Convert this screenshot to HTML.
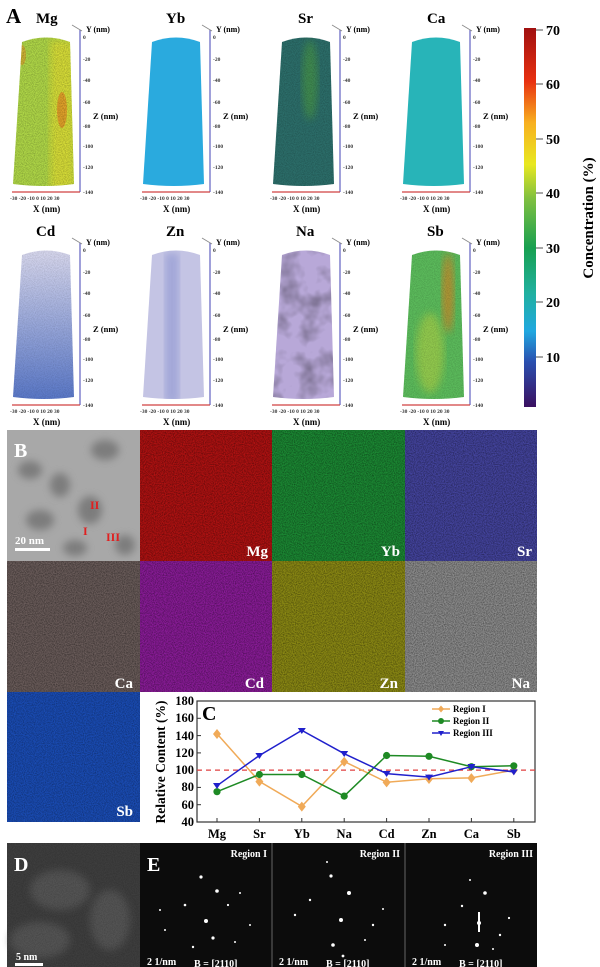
<!DOCTYPE html>
<html><head><meta charset="utf-8"><style>
html,body{margin:0;padding:0;background:#fff;}
svg{display:block;font-family:"Liberation Serif",serif;font-weight:bold;}
</style></head><body>
<svg width="600" height="967" viewBox="0 0 600 967" xmlns="http://www.w3.org/2000/svg">
<defs>
<filter id="nz" x="0" y="0" width="100%" height="100%"><feTurbulence type="fractalNoise" baseFrequency="0.9" numOctaves="2" seed="3"/><feColorMatrix type="matrix" values="0 0 0 0 0  0 0 0 0 0  0 0 0 0 0  0 0 0 -1.6 1.1"/></filter>
<filter id="nz2" x="0" y="0" width="100%" height="100%"><feTurbulence type="fractalNoise" baseFrequency="0.05" numOctaves="3" seed="7"/><feColorMatrix type="matrix" values="0 0 0 0 0  0 0 0 0 0  0 0 0 0 0  0 0 0 -2.2 1.3"/></filter>
<filter id="bl"><feGaussianBlur stdDeviation="4"/></filter>
<linearGradient id="cb" x1="0" y1="1" x2="0" y2="0">
<stop offset="0" stop-color="#3a1060"/><stop offset="0.12" stop-color="#2a50b0"/><stop offset="0.2" stop-color="#20a8e0"/><stop offset="0.3" stop-color="#20b0a0"/><stop offset="0.42" stop-color="#18a050"/><stop offset="0.55" stop-color="#80c040"/><stop offset="0.64" stop-color="#e8e820"/><stop offset="0.75" stop-color="#f8b020"/><stop offset="0.86" stop-color="#e83010"/><stop offset="1" stop-color="#a01010"/>
</linearGradient>
<linearGradient id="cdg" x1="0" y1="0" x2="0" y2="1"><stop offset="0" stop-color="#d8d8ee"/><stop offset="1" stop-color="#5a78c8"/></linearGradient>
<g id="ax">
<line x1="80" y1="30" x2="80" y2="192" stroke="#6060c0" stroke-width="1.2"/>
<line x1="12" y1="192" x2="80" y2="192" stroke="#d04040" stroke-width="1.2"/>
<line x1="72" y1="25" x2="82" y2="31" stroke="#888" stroke-width="0.8"/>
<g font-size="5.5" fill="#333"><text x="83" y="39">0</text><text x="83" y="61">-20</text><text x="83" y="82">-40</text><text x="83" y="104">-60</text><text x="83" y="128">-80</text><text x="83" y="148">-100</text><text x="83" y="169">-120</text><text x="83" y="194">-140</text>
<text x="10" y="200">-30 -20 -10  0  10  20  30</text></g>
<text x="86" y="32" font-size="8">Y (nm)</text>
<text x="93" y="119" font-size="8.5">Z (nm)</text>
<text x="33" y="212" font-size="9">X (nm)</text>
</g>
<path id="tr" d="M22 42 Q46 33 70 42 L74 184 Q44 188 13 184 Z"/>
<clipPath id="trc"><use href="#tr"/></clipPath>
</defs>

<text x="6" y="23" font-size="21">A</text>

<g>
<use href="#ax"/>
<text x="36" y="23" font-size="15">Mg</text>
<use href="#tr" fill="#b0d848"/>
<g clip-path="url(#trc)"><rect x="50" y="40" width="25" height="150" fill="#e8e030" opacity=".7" filter="url(#bl)"/><ellipse cx="62" cy="110" rx="5" ry="18" fill="#e87a20" opacity=".6"/><ellipse cx="22" cy="55" rx="4" ry="10" fill="#e88a20" opacity=".5"/><rect x="0" y="0" width="90" height="200" filter="url(#nz)" opacity=".3"/></g>
</g>
<g transform="translate(130,0)">
<use href="#ax"/>
<text x="36" y="23" font-size="15">Yb</text>
<use href="#tr" fill="#2aaade"/>
</g>
<g transform="translate(260,0)">
<use href="#ax"/>
<text x="38" y="23" font-size="15">Sr</text>
<use href="#tr" fill="#2c6e6a"/>
<g clip-path="url(#trc)"><ellipse cx="50" cy="80" rx="8" ry="40" fill="#50a040" opacity=".6" filter="url(#bl)"/><rect x="0" y="0" width="90" height="200" filter="url(#nz)" opacity=".25"/></g>
</g>
<g transform="translate(390,0)">
<use href="#ax"/>
<text x="37" y="23" font-size="15">Ca</text>
<use href="#tr" fill="#28b4b8"/>
</g>

<g transform="translate(0,213)">
<use href="#ax"/>
<text x="36" y="23" font-size="15">Cd</text>
<use href="#tr" fill="url(#cdg)"/>
<g clip-path="url(#trc)"><rect x="0" y="0" width="90" height="200" filter="url(#nz)" opacity=".15"/></g>
</g>
<g transform="translate(130,213)">
<use href="#ax"/>
<text x="36" y="23" font-size="15">Zn</text>
<use href="#tr" fill="#c4c4e4"/>
<g clip-path="url(#trc)"><rect x="35" y="40" width="14" height="150" fill="#8c94d0" opacity=".6" filter="url(#bl)"/></g>
</g>
<g transform="translate(260,213)">
<use href="#ax"/>
<text x="36" y="23" font-size="15">Na</text>
<use href="#tr" fill="#b8a8d8"/>
<g clip-path="url(#trc)"><rect x="0" y="0" width="90" height="200" filter="url(#nz2)" opacity=".3" /></g>
</g>
<g transform="translate(390,213)">
<use href="#ax"/>
<text x="37" y="23" font-size="15">Sb</text>
<use href="#tr" fill="#5cbc5c"/>
<g clip-path="url(#trc)"><ellipse cx="58" cy="80" rx="6" ry="40" fill="#e08020" opacity=".7" filter="url(#bl)"/><ellipse cx="40" cy="140" rx="14" ry="40" fill="#c8d840" opacity=".5" filter="url(#bl)"/><rect x="0" y="0" width="90" height="200" filter="url(#nz)" opacity=".2"/></g>
</g>

<rect x="524" y="28" width="12" height="379" fill="url(#cb)"/>
<g stroke="#222" stroke-width="0.8">
<line x1="536" y1="30" x2="543" y2="30"/><line x1="536" y1="84" x2="543" y2="84"/><line x1="536" y1="139" x2="543" y2="139"/><line x1="536" y1="193" x2="543" y2="193"/><line x1="536" y1="248" x2="543" y2="248"/><line x1="536" y1="302" x2="543" y2="302"/><line x1="536" y1="357" x2="543" y2="357"/>
</g>
<g font-size="14"><text x="546" y="35">70</text><text x="546" y="89">60</text><text x="546" y="144">50</text><text x="546" y="198">40</text><text x="546" y="253">30</text><text x="546" y="307">20</text><text x="546" y="362">10</text></g>
<text transform="translate(593,218) rotate(-90)" text-anchor="middle" font-size="15">Concentration (%)</text>

<rect x="7" y="430" width="133" height="131" fill="#a8a8a8"/>
<g filter="url(#bl)" fill="#6a6a6a" opacity=".7"><ellipse cx="30" cy="470" rx="12" ry="9"/><ellipse cx="60" cy="485" rx="10" ry="12"/><ellipse cx="105" cy="450" rx="14" ry="10"/><ellipse cx="90" cy="510" rx="12" ry="14"/><ellipse cx="40" cy="520" rx="14" ry="10"/><ellipse cx="125" cy="545" rx="10" ry="10"/><ellipse cx="75" cy="548" rx="12" ry="8"/></g>
<text x="14" y="457" font-size="20" fill="#fff">B</text>
<g fill="#e02020" font-size="12"><text x="90" y="509">II</text><text x="83" y="535">I</text><text x="106" y="541">III</text></g>
<text x="15" y="544" font-size="11" fill="#fff">20 nm</text>
<rect x="15" y="548" width="35" height="3" fill="#fff"/>

<rect x="140" y="430" width="132" height="131" fill="#b01212"/>
<rect x="272" y="430" width="133" height="131" fill="#1c8a34"/>
<rect x="405" y="430" width="132" height="131" fill="#44449e"/>
<rect x="7" y="561" width="133" height="131" fill="#6a5c5a"/>
<rect x="140" y="561" width="132" height="131" fill="#8a1c98"/>
<rect x="272" y="561" width="133" height="131" fill="#8c8a14"/>
<rect x="405" y="561" width="132" height="131" fill="#8c8c8c"/>
<rect x="7" y="692" width="133" height="130" fill="#1a4cb4"/>
<rect x="140" y="430" width="397" height="131" filter="url(#nz)" opacity=".5"/>
<rect x="7" y="561" width="530" height="131" filter="url(#nz)" opacity=".5"/>
<rect x="7" y="692" width="133" height="130" filter="url(#nz)" opacity=".4"/>
<g font-size="15" fill="#fff" text-anchor="end">
<text x="268" y="556">Mg</text><text x="400" y="556">Yb</text><text x="532" y="556">Sr</text>
<text x="133" y="688">Ca</text><text x="264" y="688">Cd</text><text x="398" y="688">Zn</text><text x="530" y="688">Na</text>
<text x="133" y="816">Sb</text></g>

<rect x="197" y="701" width="338" height="121" fill="#fff" stroke="#333" stroke-width="1.2"/>
<g stroke="#333" stroke-width="1">
<line x1="197" y1="718.3" x2="201" y2="718.3"/><line x1="197" y1="735.6" x2="201" y2="735.6"/><line x1="197" y1="752.9" x2="201" y2="752.9"/><line x1="197" y1="770.1" x2="201" y2="770.1"/><line x1="197" y1="787.4" x2="201" y2="787.4"/><line x1="197" y1="804.7" x2="201" y2="804.7"/>
<line x1="217" y1="822" x2="217" y2="818"/><line x1="259.4" y1="822" x2="259.4" y2="818"/><line x1="301.8" y1="822" x2="301.8" y2="818"/><line x1="344.2" y1="822" x2="344.2" y2="818"/><line x1="386.6" y1="822" x2="386.6" y2="818"/><line x1="429" y1="822" x2="429" y2="818"/><line x1="471.4" y1="822" x2="471.4" y2="818"/><line x1="513.8" y1="822" x2="513.8" y2="818"/>
</g>
<g font-size="12.5" text-anchor="end"><text x="194" y="705">180</text><text x="194" y="722">160</text><text x="194" y="740">140</text><text x="194" y="757">120</text><text x="194" y="774">100</text><text x="194" y="791">80</text><text x="194" y="809">60</text><text x="194" y="826">40</text></g>
<text transform="translate(165,762) rotate(-90)" text-anchor="middle" font-size="13.5">Relative Content (%)</text>
<g font-size="12.5" text-anchor="middle"><text x="217" y="838">Mg</text><text x="259.4" y="838">Sr</text><text x="301.8" y="838">Yb</text><text x="344.2" y="838">Na</text><text x="386.6" y="838">Cd</text><text x="429" y="838">Zn</text><text x="471.4" y="838">Ca</text><text x="513.8" y="838">Sb</text></g>
<text x="202" y="720" font-size="20">C</text>
<line x1="197" y1="770.1" x2="535" y2="770.1" stroke="#e04040" stroke-width="1.2" stroke-dasharray="5,4"/>
<polyline fill="none" stroke="#f0aa58" stroke-width="1.5" points="217,733.8 259.4,781.4 301.8,806.4 344.2,761.5 386.6,782.2 429,778.8 471.4,777.9 513.8,770.1"/>
<g fill="#f0aa58"><path d="M217 729l4 5-4 5-4-5z"/><path d="M259.4 776.6l4 5-4 5-4-5z"/><path d="M301.8 801.6l4 5-4 5-4-5z"/><path d="M344.2 756.7l4 5-4 5-4-5z"/><path d="M386.6 777.4l4 5-4 5-4-5z"/><path d="M429 774l4 5-4 5-4-5z"/><path d="M471.4 773.1l4 5-4 5-4-5z"/><path d="M513.8 765.3l4 5-4 5-4-5z"/></g>
<polyline fill="none" stroke="#1e8a24" stroke-width="1.5" points="217,791.7 259.4,774.5 301.8,774.5 344.2,796.1 386.6,755.5 429,756.3 471.4,766.7 513.8,765.8"/>
<g fill="#1e8a24"><circle cx="217" cy="791.7" r="3.6"/><circle cx="259.4" cy="774.5" r="3.6"/><circle cx="301.8" cy="774.5" r="3.6"/><circle cx="344.2" cy="796.1" r="3.6"/><circle cx="386.6" cy="755.5" r="3.6"/><circle cx="429" cy="756.3" r="3.6"/><circle cx="471.4" cy="766.7" r="3.6"/><circle cx="513.8" cy="765.8" r="3.6"/></g>
<polyline fill="none" stroke="#2020cc" stroke-width="1.5" points="217,785.7 259.4,755.5 301.8,730.4 344.2,753.7 386.6,773.6 429,777.1 471.4,766.7 513.8,771.9"/>
<g fill="#2020cc"><path d="M213 783h8l-4 6z"/><path d="M255.4 753h8l-4 6z"/><path d="M297.8 728h8l-4 6z"/><path d="M340.2 751h8l-4 6z"/><path d="M382.6 771h8l-4 6z"/><path d="M425 774.6h8l-4 6z"/><path d="M467.4 764h8l-4 6z"/><path d="M509.8 769.4h8l-4 6z"/></g>
<g font-size="9">
<line x1="432" y1="709" x2="450" y2="709" stroke="#f0aa58" stroke-width="1.5"/><path d="M441 705.5l3 3.5-3 3.5-3-3.5z" fill="#f0aa58"/><text x="453" y="712">Region I</text>
<line x1="432" y1="721" x2="450" y2="721" stroke="#1e8a24" stroke-width="1.5"/><circle cx="441" cy="721" r="3" fill="#1e8a24"/><text x="453" y="724">Region II</text>
<line x1="432" y1="733" x2="450" y2="733" stroke="#2020cc" stroke-width="1.5"/><path d="M438 731h6l-3 5z" fill="#2020cc"/><text x="453" y="736">Region III</text>
</g>

<rect x="7" y="843" width="133" height="124" fill="#3e3e3e"/>
<g filter="url(#bl)" fill="#5a5a5a" opacity=".8"><ellipse cx="60" cy="890" rx="30" ry="20"/><ellipse cx="40" cy="940" rx="30" ry="18"/><ellipse cx="110" cy="920" rx="20" ry="30"/></g>
<rect x="7" y="843" width="133" height="124" filter="url(#nz)" opacity=".2"/>
<text x="14" y="871" font-size="20" fill="#fff">D</text>
<text x="16" y="960" font-size="10" fill="#fff">5 nm</text>
<rect x="15" y="963" width="28" height="3" fill="#fff"/>

<rect x="140" y="843" width="397" height="124" fill="#0c0c0c"/>
<line x1="272" y1="843" x2="272" y2="967" stroke="#666" stroke-width="1"/>
<line x1="405" y1="843" x2="405" y2="967" stroke="#666" stroke-width="1"/>
<text x="147" y="871" font-size="20" fill="#fff">E</text>
<g fill="#fff" font-size="10" text-anchor="end"><text x="267" y="857">Region I</text><text x="400" y="857">Region II</text><text x="533" y="857">Region III</text></g>
<g fill="#fff" font-size="10"><text x="147" y="965">2 1/nm</text><text x="279" y="965">2 1/nm</text><text x="412" y="965">2 1/nm</text>
<text x="194" y="967">B = [2110]</text><text x="326" y="967">B = [2110]</text><text x="459" y="967">B = [2110]</text></g>
<g fill="#fff">
<circle cx="206" cy="921" r="2"/><circle cx="217" cy="891" r="1.8"/><circle cx="201" cy="877" r="1.6"/><circle cx="213" cy="938" r="1.6"/><circle cx="185" cy="905" r="1.3"/><circle cx="228" cy="905" r="1.1"/><circle cx="193" cy="947" r="1.2"/><circle cx="240" cy="893" r="1"/><circle cx="160" cy="910" r="1"/><circle cx="165" cy="930" r="1"/><circle cx="250" cy="925" r="1"/><circle cx="235" cy="942" r="1"/>
<circle cx="341" cy="920" r="2"/><circle cx="349" cy="893" r="2"/><circle cx="331" cy="876" r="1.6"/><circle cx="333" cy="945" r="1.8"/><circle cx="343" cy="956" r="1.4"/><circle cx="310" cy="900" r="1.2"/><circle cx="295" cy="915" r="1.2"/><circle cx="373" cy="925" r="1.2"/><circle cx="365" cy="940" r="1"/><circle cx="327" cy="862" r="1"/><circle cx="383" cy="909" r="1"/>
<circle cx="479" cy="923" r="2"/><circle cx="477" cy="945" r="2"/><circle cx="485" cy="893" r="1.8"/><circle cx="462" cy="906" r="1.2"/><circle cx="445" cy="925" r="1.2"/><circle cx="500" cy="935" r="1.2"/><circle cx="509" cy="918" r="1.1"/><circle cx="493" cy="949" r="1"/><circle cx="470" cy="880" r="1"/><circle cx="445" cy="945" r="1"/></g>
<rect x="478" y="912" width="2" height="20" fill="#fff"/>
</svg>
</body></html>
